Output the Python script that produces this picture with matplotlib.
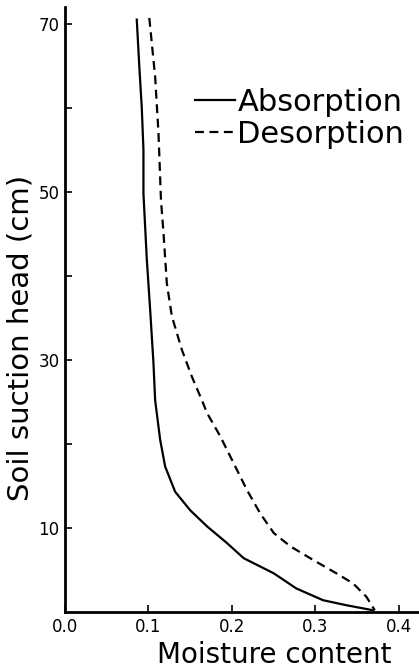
import matplotlib
matplotlib.use("Agg")
import matplotlib.pyplot as plt

# soil suction head (cm) vs moisture content
abs_suction = [70.5, 65.0, 60.0, 55.0, 49.8, 42.0, 36.0, 29.6, 25.2, 20.5, 17.3, 14.3,
               12.1, 10.2, 8.2, 6.4, 4.6, 2.8, 1.4, 0.8, 0.2]
abs_moisture = [0.086, 0.089, 0.092, 0.094, 0.094, 0.098, 0.102, 0.106, 0.108, 0.114, 0.120, 0.132,
                0.150, 0.170, 0.194, 0.214, 0.250, 0.277, 0.309, 0.337, 0.369]

des_suction = [70.7, 63.7, 57.0, 49.0, 45.1, 39.1, 35.2, 31.2, 28.0, 25.2, 23.7, 20.9,
               17.7, 14.5, 11.7, 9.4, 7.8, 6.2, 4.6, 3.4, 1.8, 0.2]
des_moisture = [0.101, 0.108, 0.112, 0.115, 0.118, 0.122, 0.128, 0.140, 0.152, 0.164, 0.170, 0.186,
                0.202, 0.218, 0.234, 0.250, 0.270, 0.297, 0.325, 0.345, 0.361, 0.371]

x_ticks = [0.0, 0.1, 0.2, 0.3, 0.4]
x_labels = ["0.0", "0.1", "0.2", "0.3", "0.4"]
y_ticks = [10, 20, 30, 40, 50, 60, 70]
y_labels = ["10", "", "30", "", "50", "", "70"]

fig = plt.figure(figsize=(4.19, 6.71), dpi=100)
ax = fig.add_axes([0.155, 0.088, 0.8425, 0.9016])

ax.plot(abs_moisture, abs_suction, color="black", lw=1.6, label="Absorption",
        solid_joinstyle="round")
ax.plot(des_moisture, des_suction, color="black", lw=1.6, linestyle=(0, (4, 2.5)),
        label="Desorption")

ax.set_xlim(0, 0.4227)
ax.set_ylim(0, 72)

for side in ["top", "right"]:
    ax.spines[side].set_visible(False)
for side in ["left", "bottom"]:
    ax.spines[side].set_linewidth(2)

ax.set_xticks(x_ticks, x_labels)
ax.set_yticks(y_ticks, y_labels)
ax.tick_params(direction="in", length=5, width=1.2, labelsize=12)
ax.tick_params(axis="y", pad=4)
ax.tick_params(axis="x", pad=4)

fig.text(21 / 419, 1 - 338 / 671, "Soil suction head (cm)", rotation=90,
         ha="center", va="center", fontsize=21)
fig.text(274 / 419, 1 - 663 / 671, "Moisture content", ha="center",
         va="baseline", fontsize=20)

ax.legend(loc="upper left", bbox_to_anchor=(0.368, 0.866), frameon=False,
          fontsize=22, handlelength=1.32, handletextpad=0.07, borderpad=0,
          borderaxespad=0, labelspacing=0.1)

fig.savefig("out.png", dpi=100)
